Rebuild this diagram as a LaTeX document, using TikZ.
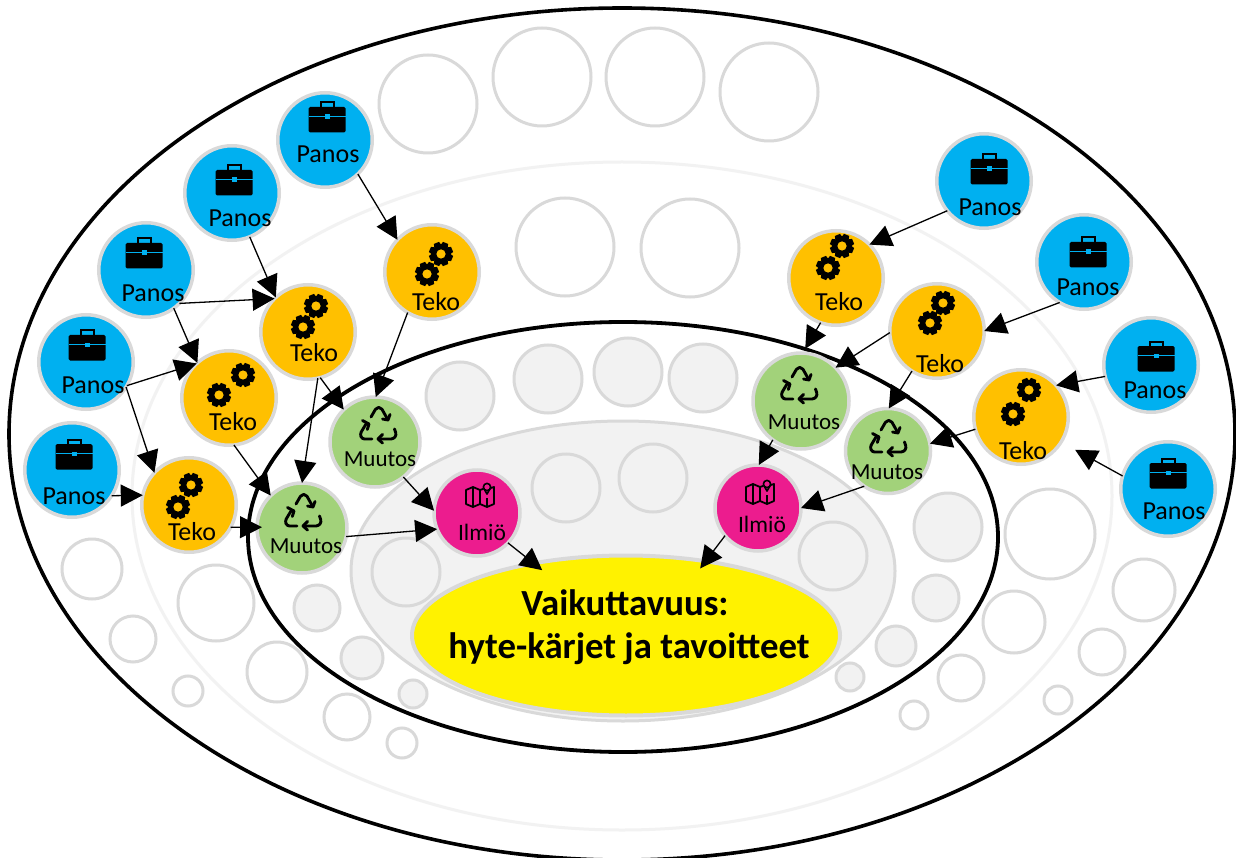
\documentclass[tikz,border=0pt]{standalone}
\usepackage{fontspec}
\setmainfont{Carlito}
\usetikzlibrary{arrows.meta,shapes.geometric}
\definecolor{cblue}{HTML}{00B0F0}
\definecolor{corange}{HTML}{FFC000}
\definecolor{cgreen}{HTML}{A2D27A}
\definecolor{cpink}{HTML}{EC1C8E}
\definecolor{cyell}{HTML}{FFF200}
\definecolor{edge}{HTML}{D9D9D9}
\definecolor{pale}{HTML}{F2F2F2}
\tikzset{
  cnode/.style={circle,draw=edge,line width=3.5pt,inner sep=0pt,outer sep=0pt},
  lbl/.style={inner sep=0pt,outer sep=0pt,text=black},
  ghost/.style={draw=edge,line width=3pt},
  ghostfill/.style={draw=edge,fill=pale,line width=3pt},
  conn/.style={-{Triangle[length=22pt,width=22pt]},line width=1.3pt,black},
  caseicon/.pic={
    \draw[black,line width=2pt] (-6.5,-9)--(-6.5,-14.5)--(6.5,-14.5)--(6.5,-9);
    \fill[black,rounded corners=1.5pt] (-18.5,-10) rectangle (18.5,15.5);
    \draw[cblue,line width=1.6pt] (-18.5,-0.5)--(18.5,-0.5);
    \fill[cblue] (-2.5,-2.5) rectangle (2.5,1.8);
  },
  gearicon/.pic={
    \fill[black] (0,0) circle (9);
    \foreach \a in {0,45,...,315}{
      \fill[black,rotate=\a+22.5] (-2.8,-12)--(2.8,-12)--(3.8,-8)--(-3.8,-8)--cycle;
    }
    \fill[corange] (0,0) circle (4.6);
  },
  recycleicon/.pic={
    \begin{scope}[line width=2.9pt,black,line cap=round,line join=round]
      \draw[rounded corners=2pt] (-7,-8)--(-1.5,-17.5)--(3,-17.5)--(10,-5);
      \draw (4.5,-6)--(10,-5)--(12,-10.5);
      \draw[rounded corners=2.5pt] (-6,14)--(-16,14)--(-18,9)--(-12,-1);
      \draw (-15.5,-4.5)--(-9,-1)--(-10.7,4.5);
      \draw[rounded corners=2.5pt] (16.5,4)--(18.5,10)--(15.5,14)--(0.5,14);
      \draw (4.5,9.5)--(0,14)--(4.5,18);
    \end{scope}
  },
  mapicon/.pic={
    \begin{scope}[line width=1.8pt,black,line join=round]
      \draw (3,-6)--(0,-5)--(-7,-8)--(-14,-5)--(-14,9)--(-7,12)--(0,9)--(7,12)--(14,9)--(14,-8)--(11,-7);
      \draw (-7,-8)--(-7,12) (0,-5)--(0,9) (7,3)--(7,12);
      \draw[line width=1.6pt] (3.8,-6.5)--(7,-1)--(10.2,-6.5);
      \draw[line width=1.6pt] (7,-8) circle (3.6);
    \end{scope}
  }
}
\newcommand\Pn[7]{%
  \node[cnode,fill=cblue,minimum size=94.5pt] (#1) at (#2,#3) {};
  \pic at (#4,#5) {caseicon};
  \node[lbl,font=\fontsize{26}{30}\selectfont] (#1l) at (#6,#7) {Panos};}
\newcommand\Tk[9]{%
  \node[cnode,fill=corange,minimum size=94.5pt] (#1) at (#2,#3) {};
  \pic at (#4,#5) {gearicon};
  \pic at (#6,#7) {gearicon};
  \node[lbl,font=\fontsize{26}{30}\selectfont] (#1l) at (#8,#9) {Teko};}
\newcommand\Mu[8]{%
  \node[cnode,fill=cgreen,minimum size=#4pt] (#1) at (#2,#3) {};
  \pic at (#5,#6) {recycleicon};
  \node[lbl,font=\fontsize{23}{27}\selectfont] (#1l) at (#7,#8) {Muutos};}
\newcommand\Il[7]{%
  \node[cnode,fill=cpink,minimum size=86pt] (#1) at (#2,#3) {};
  \pic at (#4,#5) {mapicon};
  \node[lbl,font=\fontsize{23.5}{27}\selectfont] (#1l) at (#6,#7) {Ilmiö};}
\begin{document}
\begin{tikzpicture}[x=1pt,y=-1pt]
\useasboundingbox (0,0) rectangle (1236,858);
\clip (0,0) rectangle (1236,858);
\fill[white] (0,0) rectangle (1236,858);
% rings
\draw[black,line width=3.6pt] (622,434) ellipse (613 and 426);
\draw[pale,line width=3pt] (622,496) ellipse (490 and 334);
% white circles
\foreach \x/\y/\r in {428/104/49,542/77/49,655/77/49,769/92/49,565/247/49,690/248/49,
  92/569/30,133/639/23,188/691/15,216/603/38,277/672/30,347/717/23,402/743/15,
  1050/534/45,1144/590/31,1014/622/31,1102/652/23,1058/700/14,961/678/23,914/715/14}{
  \draw[ghost] (\x,\y) circle (\r);
}
% inner black ellipse
\draw[black,line width=3.8pt] (623,537) ellipse (375 and 215);
% grey circles between the black ellipse and the grey one
\foreach \x/\y/\r in {317/608/23,362/658/21,413/694/14,948/527/34,936/598/23,896/646/20,850/677/14,
  460/396/34,548/379/34,628/372/34,703/378/34}{
  \draw[ghostfill] (\x,\y) circle (\r);
}
\draw[draw=edge,fill=pale,line width=3pt] (623,571) ellipse (272 and 150);
\foreach \x/\y/\r in {406/572/34,833/556/34,566/488/34,653/478/34}{
  \draw[ghostfill] (\x,\y) circle (\r);
}
% central ellipse
\node[ellipse,draw=edge,fill=cyell,line width=4pt,inner sep=0pt,outer sep=0pt,minimum width=428pt,minimum height=160pt] (goal) at (626,635.5) {};
\node[lbl,font=\fontsize{36.8}{42}\bfseries\selectfont] (goalA) at (625,603) {Vaikuttavuus:};
\node[lbl,font=\fontsize{36.8}{42}\bfseries\selectfont] (goalB) at (629,649) {hyte-kärjet ja tavoitteet};
% Panos
\Pn{pa}{325}{140}{327}{117}{328}{154}
\Pn{pb}{232}{193}{234}{180}{240}{218}
\Pn{pc}{146}{270}{144}{253}{153}{293}
\Pn{pd}{86}{362}{87}{345}{93}{385}
\Pn{pe}{72}{470}{74}{454}{74}{496}
\Pn{pf}{984}{181}{989}{169}{990}{207}
\Pn{pg}{1084}{262}{1088}{252}{1088}{287}
\Pn{ph}{1151}{365}{1156}{356}{1155}{390}
\Pn{pi}{1168}{489}{1168}{473}{1174}{511}
% Teko
\Tk{ta}{432}{272}{441}{254}{427}{274}{436}{302}
\Tk{tb}{308}{332}{316}{306}{303}{327}{314}{353}
\Tk{tc}{229}{398}{243}{375}{219}{395}{233}{422}
\Tk{td}{189}{505}{191}{485}{178}{507}{192}{532}
\Tk{te}{836}{278}{842}{246}{828}{268}{839}{302}
\Tk{tf}{937}{331}{943}{303}{930}{323}{940}{364}
\Tk{tg}{1021}{417}{1029}{390}{1013}{414}{1023}{451}
% Muutos
\Mu{ma}{375}{442}{90}{378}{425}{380}{459}
\Mu{mb}{302}{528}{90}{303}{512}{306}{546}
\Mu{mc}{801}{401}{96}{799}{385}{804}{422}
\Mu{md}{888}{451}{85}{888}{438}{887}{472}
% Ilmio
\Il{ia}{477}{513}{480}{495}{482}{532}
\Il{ib}{758}{508}{760}{492}{762}{524}
% connectors
\draw[conn] (pa.-46) -- (ta.137);
\draw[conn] (pb.-68) -- (tb.133);
\draw[conn] (pc.-45) -- (tb.135);
\draw[conn] (pc.-54) -- (tc.132);
\draw[conn] (pd.-30) -- (tc.133);
\draw[conn] (pd.-32) -- (td.137);
\draw[conn] (pe.-33) -- (td.168);
\draw[conn] (ta.-121) -- (ma.89);
\draw[conn] (tb.-75) -- (ma.134);
\draw[conn] (tb.-78) -- (mb.90);
\draw[conn] (tc.-84) -- (mb.134);
\draw[conn,shorten >=-5pt] (td.-28) -- (mb.179);
\draw[conn] (ma.-51) -- (ia.177);
\draw[conn] (mb.-11) -- (ia.-158);
\draw[conn,shorten >=-11pt] (ia.-44) -- (goal.142.5);
\draw[conn] (pf.-141) -- (te.45);
\draw[conn] (pg.-121) -- (tf.0);
\draw[conn] (ph.-166) -- (tg.42);
\draw[conn,shorten >=16pt] (pi.164) -- (tg.-32);
\draw[conn,shorten >=5pt] (te.-109) -- (mc.88);
\draw[conn] (tf.-178) -- (mc.44);
\draw[conn] (tf.-122) -- (md.89);
\draw[conn] (tg.-165) -- (md.10);
\draw[conn] (mc.-126) -- (ib.89);
\draw[conn] (md.-124) -- (ib.0);
\draw[conn,shorten >=-9pt] (ib.-140) -- (goal.43);
\end{tikzpicture}
\end{document}
